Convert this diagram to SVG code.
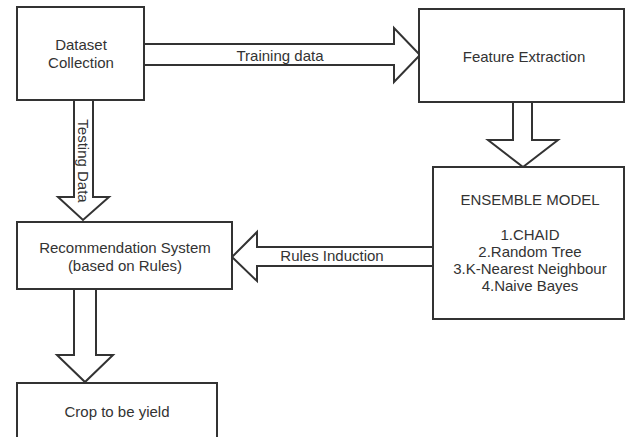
<svg xmlns="http://www.w3.org/2000/svg" width="626" height="437" viewBox="0 0 626 437">
<style>
.box{fill:#fff;stroke:#333;stroke-width:2}
.arr{fill:#fff;stroke:#333;stroke-width:2;stroke-linejoin:miter}
text{font-family:"Liberation Sans",Arial,sans-serif;font-size:15px;fill:#333;text-anchor:middle}
</style>
<rect width="626" height="437" fill="#fff"/>
<g id="connectors">
<polygon class="arr" points="144,44 394,44 394,28 420,55 394,82 394,65 144,65"/>
<text x="280" y="61">Training data</text>
<polygon class="arr" points="513,102 532,102 532,140 558,140 523,167 488,140 513,140"/>
<polygon class="arr" points="433,247 257,247 257,232 232,257 257,281 257,266 433,266"/>
<text x="332" y="261">Rules Induction</text>
<polygon class="arr" points="74,100 93,100 93,197 109,197 83,220 58,197 74,197"/>
<text transform="translate(78,161) rotate(90)" x="0" y="0">Testing Data</text>
<polygon class="arr" points="74,289 96,289 96,355 113,355 85,382 57,355 74,355"/>
</g>
<g id="dataset">
<rect class="box" x="17" y="7" width="127" height="93"/>
<text x="81" y="50">Dataset</text>
<text x="81" y="68">Collection</text>
</g>
<g id="feature">
<rect class="box" x="419" y="9" width="205" height="93"/>
<text x="524" y="62">Feature Extraction</text>
</g>
<g id="ensemble">
<rect class="box" x="433" y="167" width="191" height="152"/>
<text x="530" y="205">ENSEMBLE MODEL</text>
<text x="530" y="240">1.CHAID</text>
<text x="530" y="257">2.Random Tree</text>
<text x="530" y="274">3.K-Nearest Neighbour</text>
<text x="530" y="291">4.Naive Bayes</text>
</g>
<g id="recommendation">
<rect class="box" x="17" y="222" width="215" height="67"/>
<text x="125" y="253">Recommendation System</text>
<text x="125" y="271">(based on Rules)</text>
</g>
<g id="crop">
<rect class="box" x="17" y="383" width="200" height="70"/>
<text x="117" y="417">Crop to be yield</text>
</g>
</svg>
